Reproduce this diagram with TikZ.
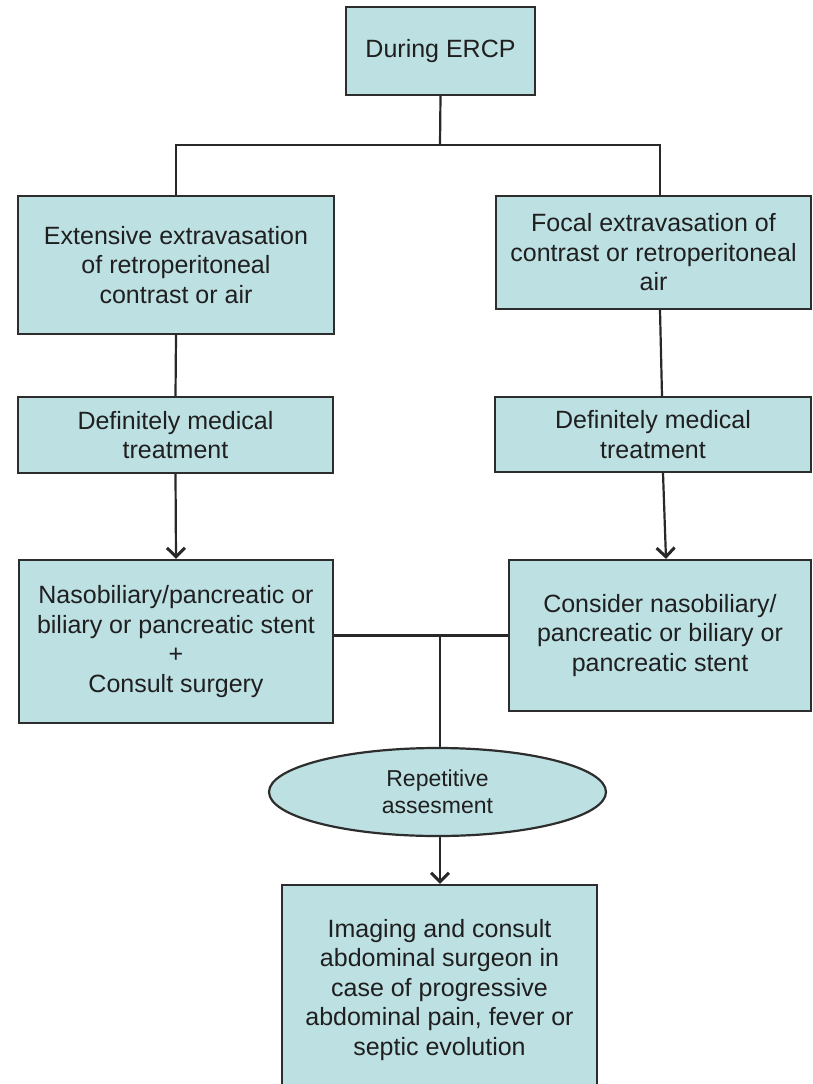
\documentclass[tikz,border=0pt]{standalone}
\usepackage{fontspec}
\setmainfont{Liberation Sans}
\usetikzlibrary{shapes.geometric,arrows.meta,calc}
\definecolor{boxfill}{RGB}{189,224,227}
\definecolor{boxline}{RGB}{45,45,45}
\definecolor{conn}{RGB}{40,40,40}
\begin{document}
\begin{tikzpicture}[x=1pt,y=-1pt,
  box/.style={draw=boxline,line width=2.2pt,fill=boxfill,rectangle,align=center,inner sep=0pt,
    font=\fontsize{25}{29.5}\selectfont,text=black!88},
  oval/.style={draw=boxline,line width=2.2pt,fill=boxfill,ellipse,align=center,inner sep=0pt,
    font=\fontsize{23}{26.7}\selectfont,text=black!88},
  link/.style={draw=conn,line width=2.2pt},
  arr/.style={link,-{Straight Barb[length=9pt,width=18pt,line width=3pt]}}
]
\clip (0,0) rectangle (812,1084);
\fill[white] (0,0) rectangle (812,1084);

\node[box,minimum width=189pt,minimum height=88pt] (top) at (440.5,51) {During ERCP};
\node[box,minimum width=316pt,minimum height=138pt] (ext) at (176,265)
  {Extensive extravasation\\of retroperitoneal\\contrast or air};
\node[box,minimum width=315pt,minimum height=113pt] (foc) at (653.5,252.5)
  {Focal extravasation of\\contrast or retroperitoneal\\air};
\node[box,minimum width=315pt,minimum height=76pt] (dl) at (175.5,435)
  {Definitely medical\\treatment};
\node[box,minimum width=316pt,minimum height=75pt] (dr) at (653,434.5)
  {Definitely medical\\treatment};
\node[box,minimum width=314pt,minimum height=163pt] (nl) at (176,641.5)
  {Nasobiliary/pancreatic or\\biliary or pancreatic stent\\+\\Consult surgery};
\node[box,minimum width=302pt,minimum height=151pt] (nr) at (660,635.5)
  {Consider nasobiliary/\\pancreatic or biliary or\\pancreatic stent};
\node[oval,minimum width=337pt,minimum height=88pt] (rep) at (437.5,792)
  {Repetitive\\assesment};
\node[box,minimum width=315pt,minimum height=210pt] (img) at (439.5,990)
  {Imaging and consult\\abdominal surgeon in\\case of progressive\\abdominal pain, fever or\\septic evolution};

\coordinate (split) at (440,145);
\coordinate (join) at (440,636);

\draw[link] (top.south) -- (split);
\draw[link] (split) -| (ext.north);
\draw[link] (split) -| ([xshift=6.5pt]foc.north);
\draw[link] (ext.south) -- (dl.north);
\draw[arr] (dl.south) -- (nl.north);
\draw[link] ([xshift=6.5pt]foc.south) -- ([xshift=9pt]dr.north);
\draw[arr] ([xshift=10pt]dr.south) -- ([xshift=6pt]nr.north);
\draw[link] (nr.west) -- (nr.west -| nl.east);
\draw[link] (join) -- (join |- rep.north);
\draw[arr] (rep.south -| join) -- (img.north -| join);
\end{tikzpicture}
\end{document}
